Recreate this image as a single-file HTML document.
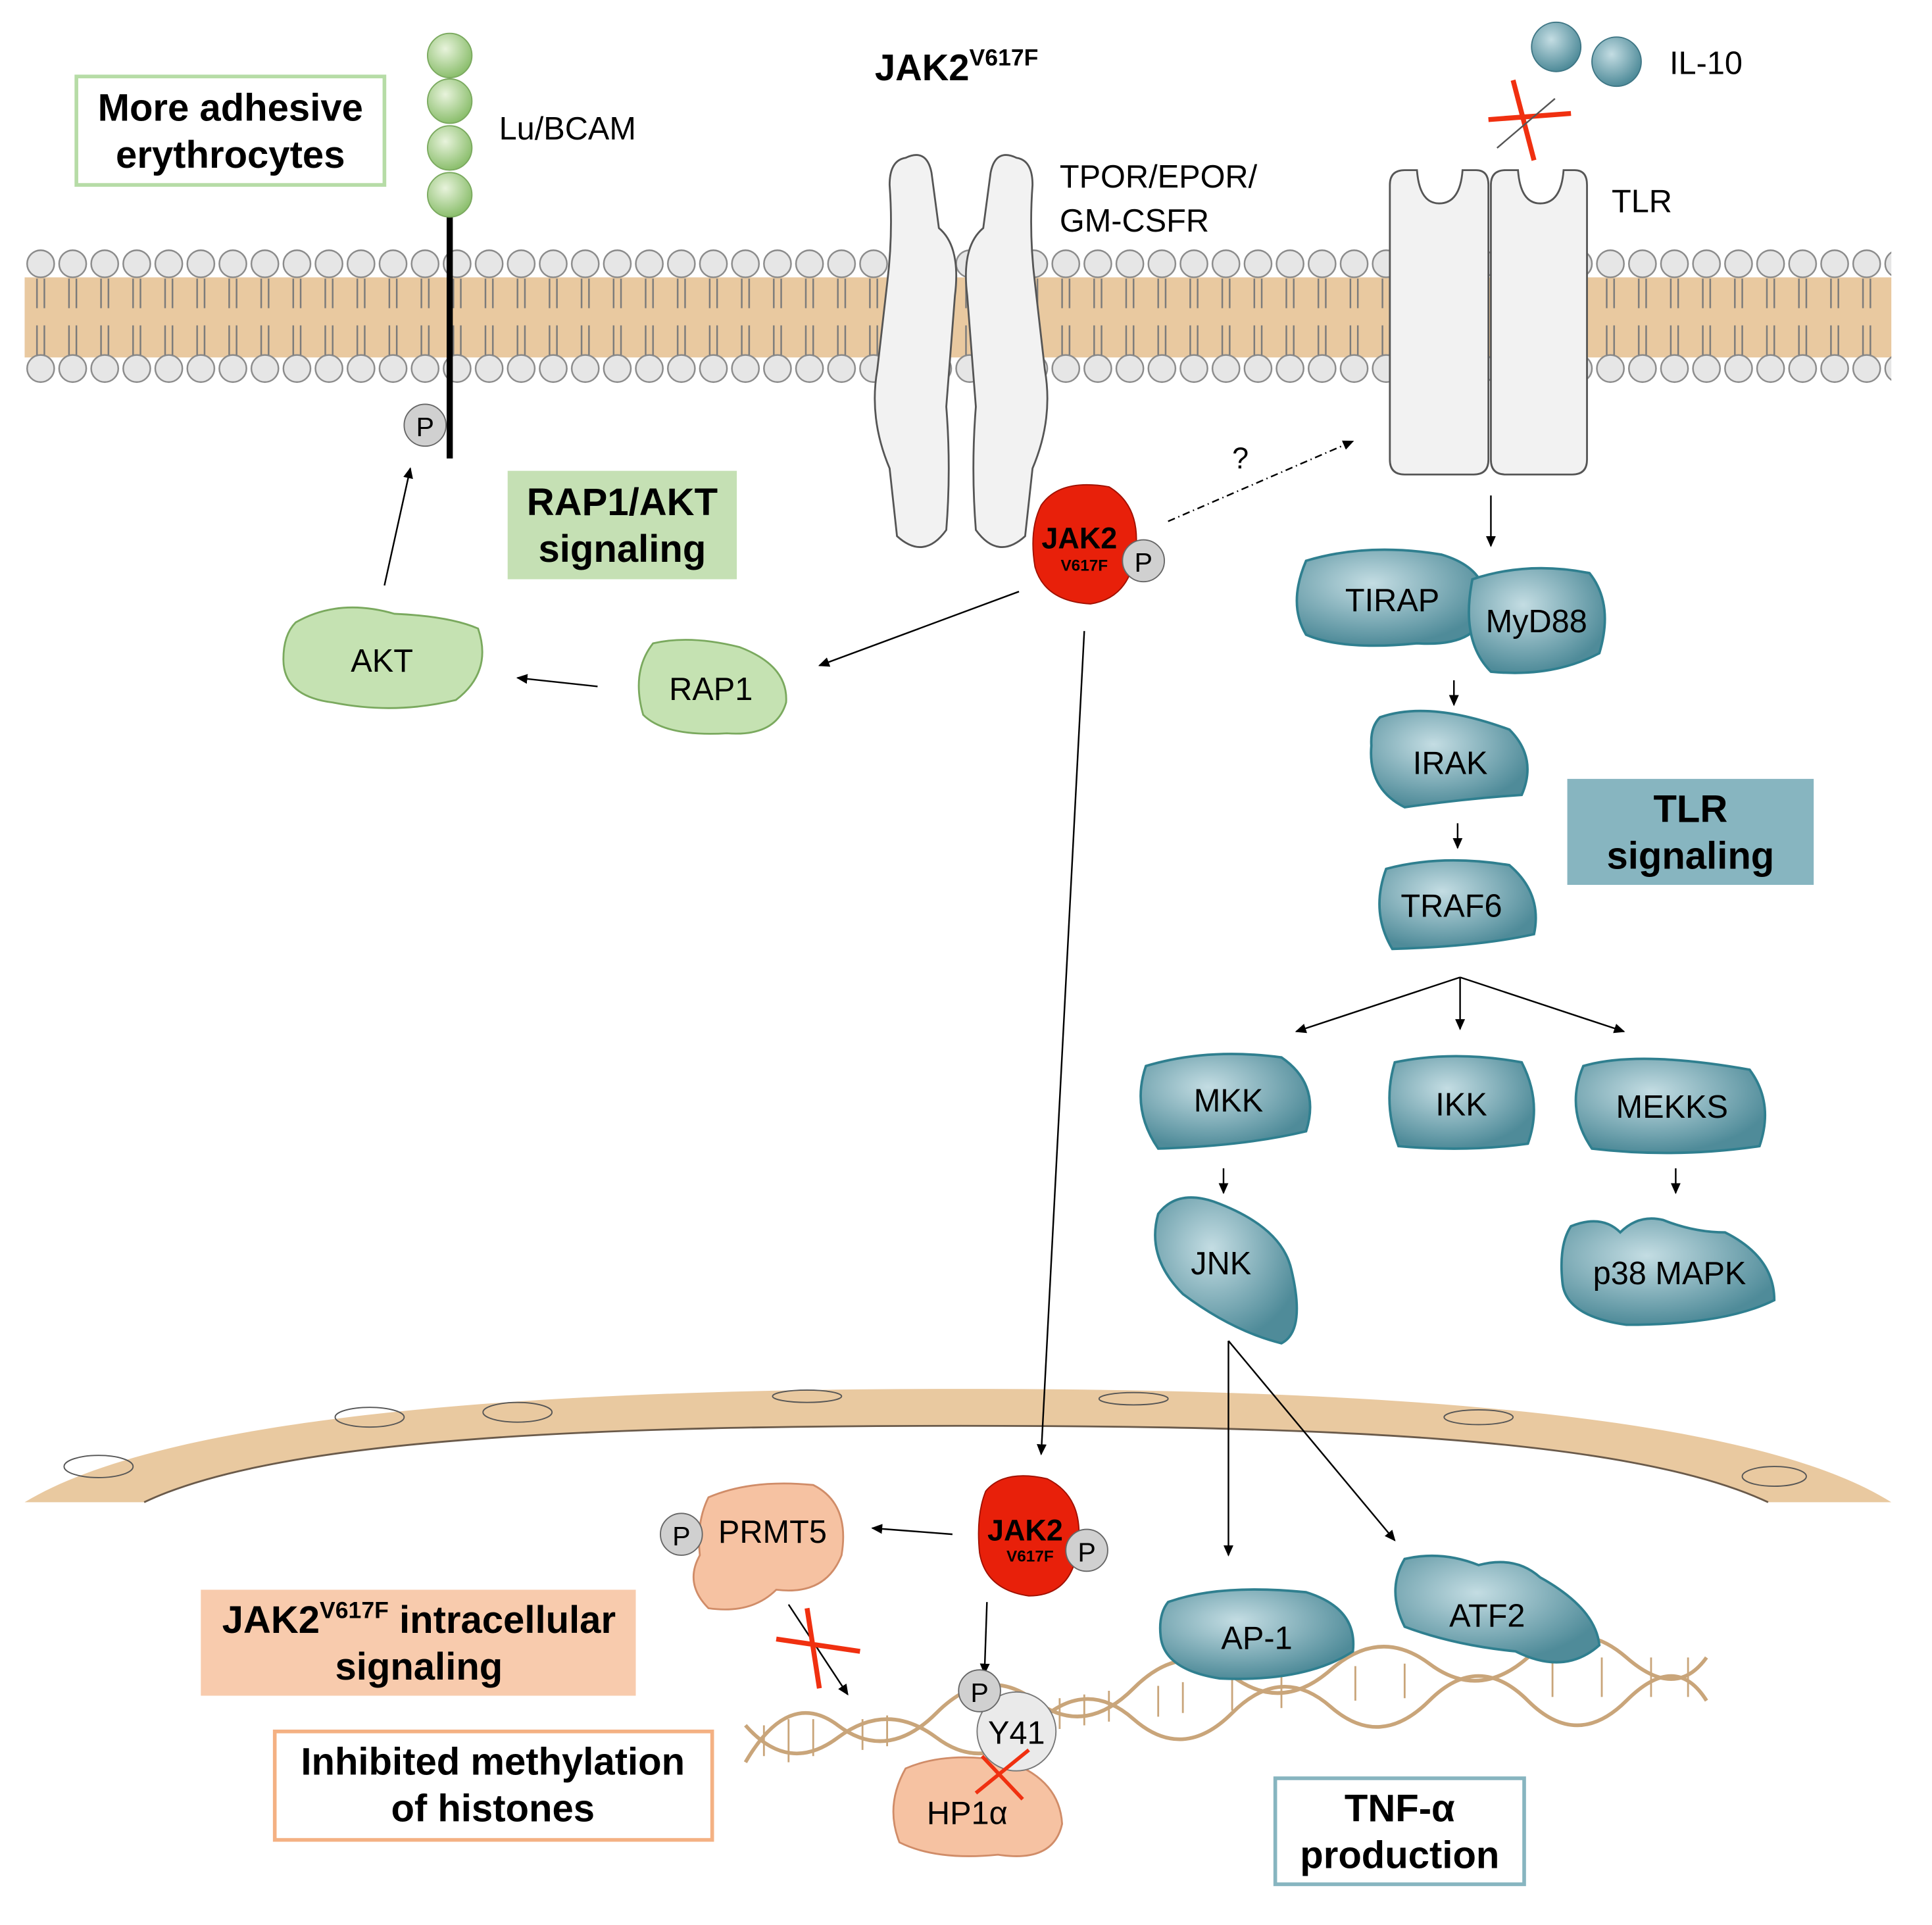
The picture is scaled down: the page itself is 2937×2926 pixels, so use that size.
<!DOCTYPE html>
<html><head><meta charset="utf-8"><style>
html,body{margin:0;padding:0;background:#fff;}
svg{display:block;}
text{font-family:"Liberation Sans",sans-serif;}
</style></head><body>
<svg width="2937" height="2926" viewBox="0 0 1568 1562" xmlns="http://www.w3.org/2000/svg">
<defs>
<pattern id="heads" x="20" y="0" width="26" height="400" patternUnits="userSpaceOnUse">
<circle cx="13" cy="214" r="11" fill="#e6e6e6" stroke="#8a8a8a" stroke-width="1.3"/>
<circle cx="13" cy="299" r="11" fill="#e6e6e6" stroke="#8a8a8a" stroke-width="1.3"/>
<path d="M10 226 V250 M16 226 V250 M10 288 V264 M16 288 V264" stroke="#7a7a7a" stroke-width="1.3" fill="none"/>
</pattern>
<marker id="ar" markerWidth="10" markerHeight="10" refX="8" refY="5" orient="auto" markerUnits="userSpaceOnUse"><path d="M0,1 L9,5 L0,9 z" fill="#000"/></marker>
<radialGradient id="gb" cx="40%" cy="35%" r="65%"><stop offset="0" stop-color="#e8f3dc"/><stop offset="1" stop-color="#8cbf6e"/></radialGradient>
<radialGradient id="tb" cx="40%" cy="35%" r="65%"><stop offset="0" stop-color="#c4dde3"/><stop offset="1" stop-color="#4f8b99"/></radialGradient>
</defs>

<!-- membrane -->
<rect x="20" y="225" width="1515" height="65" fill="#e9c9a0"/>
<rect x="20" y="195" width="1515" height="120" fill="url(#heads)"/>

<!-- nucleus envelope -->
<path d="M20 1219 C150 1140 500 1127 780 1127 C1060 1127 1410 1140 1535 1219 L1435 1219 C1320 1165 1060 1157 780 1157 C500 1157 230 1165 117 1219 Z" fill="#e9c9a0"/>
<path d="M117 1219 C230 1165 500 1157 780 1157 C1060 1157 1320 1165 1435 1219" fill="none" stroke="#6a5a4a" stroke-width="1.5"/>
<ellipse cx="80" cy="1190" rx="28" ry="9" fill="none" stroke="#555"/>
<ellipse cx="300" cy="1150" rx="28" ry="8" fill="none" stroke="#555"/>
<ellipse cx="420" cy="1146" rx="28" ry="8" fill="none" stroke="#555"/>
<ellipse cx="655" cy="1133" rx="28" ry="5" fill="none" stroke="#555"/>
<ellipse cx="920" cy="1135" rx="28" ry="5" fill="none" stroke="#555"/>
<ellipse cx="1200" cy="1150" rx="28" ry="6" fill="none" stroke="#555"/>
<ellipse cx="1440" cy="1198" rx="26" ry="8" fill="none" stroke="#555"/>

<!-- DNA -->
<g stroke="#c9a57a" stroke-width="3" fill="none">
<path d="M605 1430 Q640 1370 680 1400 T760 1390 T840 1380 T920 1370 T1000 1360 T1080 1355 T1160 1350 T1240 1345 T1320 1345 T1385 1345"/>
<path d="M605 1400 Q640 1440 680 1410 T760 1410 T840 1400 T920 1395 T1000 1390 T1080 1385 T1160 1380 T1240 1380 T1320 1380 T1385 1380"/>
</g>
<g stroke="#c9a57a" stroke-width="1.5">
<path d="M620 1400v25M640 1395v35M660 1395v30M700 1395v25M720 1392v25M860 1378v25M880 1375v25M900 1372v25M940 1368v25M960 1365v25M1000 1360v28M1040 1358v28M1100 1352v28M1140 1350v28M1260 1345v32M1300 1345v32M1340 1345v32M1370 1345v32"/>
</g>

<!-- Lu/BCAM -->
<line x1="365" y1="175" x2="365" y2="372" stroke="#000" stroke-width="5"/>
<circle cx="365" cy="45" r="18" fill="url(#gb)" stroke="#7aa95e"/>
<circle cx="365" cy="82" r="18" fill="url(#gb)" stroke="#7aa95e"/>
<circle cx="365" cy="120" r="18" fill="url(#gb)" stroke="#7aa95e"/>
<circle cx="365" cy="158" r="18" fill="url(#gb)" stroke="#7aa95e"/>
<circle cx="345" cy="345" r="17" fill="#d0d0d0" stroke="#666"/>
<text x="345" y="354" font-size="22" text-anchor="middle">P</text>
<text x="405" y="113" font-size="26">Lu/BCAM</text>

<rect x="62" y="62" width="250" height="88" fill="#fff" stroke="#b6dca6" stroke-width="3"/>
<text x="187" y="98" font-size="31" font-weight="bold" text-anchor="middle">More adhesive</text>
<text x="187" y="136" font-size="31" font-weight="bold" text-anchor="middle">erythrocytes</text>

<!-- title -->
<text x="710" y="65" font-size="30" font-weight="bold">JAK2<tspan font-size="19" dy="-12">V617F</tspan></text>

<!-- receptor -->
<path d="M735 128 Q752 120 756 140 L762 185 Q780 200 775 240 L768 330 Q772 380 768 430 Q750 455 728 435 L722 380 Q705 340 712 300 L720 230 Q725 190 722 150 Q722 130 735 128 Z" fill="#f2f2f2" stroke="#555" stroke-width="1.5"/>
<path d="M825 128 Q808 120 804 140 L798 185 Q780 200 785 240 L792 330 Q788 380 792 430 Q810 455 832 435 L838 380 Q855 340 848 300 L840 230 Q835 190 838 150 Q838 130 825 128 Z" fill="#f2f2f2" stroke="#555" stroke-width="1.5"/>
<text x="860" y="152" font-size="26">TPOR/EPOR/</text>
<text x="860" y="188" font-size="26">GM-CSFR</text>

<!-- JAK2 cytoplasm -->
<path d="M845 410 Q860 388 900 395 Q925 410 922 445 Q918 485 885 490 Q848 488 840 460 Q835 430 845 410Z" fill="#e8200a" stroke="#a01000"/>
<text x="876" y="445" font-size="24" font-weight="bold" text-anchor="middle">JAK2</text>
<text x="880" y="463" font-size="13" font-weight="bold" text-anchor="middle">V617F</text>
<circle cx="928" cy="455" r="17" fill="#d0d0d0" stroke="#666"/>
<text x="928" y="464" font-size="22" text-anchor="middle">P</text>

<line x1="948" y1="423" x2="1098" y2="358" stroke="#000" stroke-width="1.3" stroke-dasharray="6,3,1,3" marker-end="url(#ar)"/>
<text x="1000" y="380" font-size="24">?</text>

<!-- IL-10 / TLR -->
<circle cx="1263" cy="38" r="20" fill="url(#tb)" stroke="#3d7584"/>
<circle cx="1312" cy="50" r="20" fill="url(#tb)" stroke="#3d7584"/>
<text x="1355" y="60" font-size="26">IL-10</text>
<path d="M1208 97 L1275 92 M1228 65 L1245 130" stroke="#f03010" stroke-width="4"/>
<path d="M1215 120 L1262 80" stroke="#555" stroke-width="1.3"/>
<path d="M1140 138 H1150 Q1152 165 1168 165 Q1185 165 1187 138 H1198 Q1208 138 1208 150 V373 Q1208 385 1196 385 H1140 Q1128 385 1128 373 V150 Q1128 138 1140 138Z" fill="#f2f2f2" stroke="#555" stroke-width="1.5"/>
<path d="M1222 138 H1232 Q1234 165 1250 165 Q1267 165 1269 138 H1278 Q1288 138 1288 150 V373 Q1288 385 1276 385 H1222 Q1210 385 1210 373 V150 Q1210 138 1222 138Z" fill="#f2f2f2" stroke="#555" stroke-width="1.5"/>
<text x="1308" y="172" font-size="26">TLR</text>

<!-- RAP1/AKT -->
<rect x="412" y="382" width="186" height="88" fill="#c5e0b4"/>
<text x="505" y="418" font-size="31" font-weight="bold" text-anchor="middle">RAP1/AKT</text>
<text x="505" y="456" font-size="31" font-weight="bold" text-anchor="middle">signaling</text>
<path d="M240 505 Q275 485 320 498 Q365 500 388 510 Q400 545 370 568 Q320 580 270 570 Q230 565 230 535 Q230 515 240 505Z" fill="#c5e2b2" stroke="#7aa95e" stroke-width="1.5"/>
<text x="310" y="545" font-size="26" text-anchor="middle">AKT</text>
<path d="M530 522 Q560 515 600 525 Q640 540 638 570 Q630 598 590 595 Q540 598 522 580 Q512 545 530 522Z" fill="#c5e2b2" stroke="#7aa95e" stroke-width="1.5"/>
<text x="577" y="568" font-size="26" text-anchor="middle">RAP1</text>
<line x1="827" y1="480" x2="665" y2="540" stroke="#000" stroke-width="1.3" marker-end="url(#ar)"/>
<line x1="485" y1="557" x2="420" y2="550" stroke="#000" stroke-width="1.3" marker-end="url(#ar)"/>
<line x1="312" y1="475" x2="333" y2="380" stroke="#000" stroke-width="1.3" marker-end="url(#ar)"/>
<line x1="880" y1="512" x2="845" y2="1180" stroke="#000" stroke-width="1.3" marker-end="url(#ar)"/>

<!-- TLR pathway -->
<g fill="url(#tb)" stroke="#2f7f8f" stroke-width="2">
<path d="M1060 455 Q1110 440 1170 450 Q1210 462 1205 495 Q1200 525 1150 522 Q1090 528 1060 515 Q1045 490 1060 455Z"/>
<path d="M1195 470 Q1240 455 1290 465 Q1310 490 1298 530 Q1260 550 1210 545 Q1185 520 1195 470Z"/>
<path d="M1120 582 Q1160 568 1225 592 Q1248 615 1235 645 Q1190 648 1140 655 Q1110 640 1113 605 Q1112 590 1120 582Z"/>
<path d="M1125 705 Q1170 693 1225 702 Q1252 725 1245 758 Q1200 768 1130 770 Q1112 740 1125 705Z"/>
<path d="M930 865 Q980 850 1040 858 Q1072 880 1060 918 Q1010 930 940 932 Q918 900 930 865Z"/>
<path d="M1132 862 Q1180 852 1235 862 Q1252 895 1240 928 Q1190 935 1135 930 Q1122 895 1132 862Z"/>
<path d="M1285 865 Q1330 852 1420 868 Q1440 895 1428 930 Q1360 940 1292 932 Q1270 900 1285 865Z"/>
<path d="M940 985 Q955 965 985 975 Q1040 995 1048 1030 Q1060 1080 1040 1090 Q1000 1080 960 1050 Q930 1020 940 985Z"/>
<path d="M1275 995 Q1300 985 1315 1000 Q1330 985 1350 990 Q1375 1000 1400 1000 Q1440 1020 1440 1055 Q1400 1075 1320 1075 Q1270 1068 1268 1040 Q1265 1010 1275 995Z"/>
<path d="M948 1300 Q990 1285 1060 1292 Q1102 1305 1098 1340 Q1060 1365 990 1362 Q945 1355 942 1328 Q940 1310 948 1300Z"/>
<path d="M1140 1265 Q1170 1258 1200 1270 Q1230 1262 1250 1280 Q1295 1305 1298 1335 Q1270 1360 1230 1340 Q1180 1335 1140 1320 Q1125 1290 1140 1265Z"/>
</g>
<text x="1130" y="496" font-size="26" text-anchor="middle">TIRAP</text>
<text x="1247" y="513" font-size="26" text-anchor="middle">MyD88</text>
<text x="1177" y="628" font-size="26" text-anchor="middle">IRAK</text>
<text x="1178" y="744" font-size="26" text-anchor="middle">TRAF6</text>
<text x="997" y="902" font-size="26" text-anchor="middle">MKK</text>
<text x="1186" y="905" font-size="26" text-anchor="middle">IKK</text>
<text x="1357" y="907" font-size="26" text-anchor="middle">MEKKS</text>
<text x="991" y="1034" font-size="26" text-anchor="middle">JNK</text>
<text x="1355" y="1042" font-size="26" text-anchor="middle">p38 MAPK</text>
<text x="1020" y="1338" font-size="26" text-anchor="middle">AP-1</text>
<text x="1207" y="1320" font-size="26" text-anchor="middle">ATF2</text>

<g stroke="#000" stroke-width="1.3" fill="none">
<line x1="1210" y1="402" x2="1210" y2="443" marker-end="url(#ar)"/>
<line x1="1180" y1="552" x2="1180" y2="572" marker-end="url(#ar)"/>
<line x1="1183" y1="668" x2="1183" y2="688" marker-end="url(#ar)"/>
<line x1="1185" y1="793" x2="1052" y2="837" marker-end="url(#ar)"/>
<line x1="1185" y1="793" x2="1185" y2="835" marker-end="url(#ar)"/>
<line x1="1185" y1="793" x2="1318" y2="837" marker-end="url(#ar)"/>
<line x1="993" y1="948" x2="993" y2="968" marker-end="url(#ar)"/>
<line x1="1360" y1="948" x2="1360" y2="968" marker-end="url(#ar)"/>
<line x1="997" y1="1088" x2="997" y2="1262" marker-end="url(#ar)"/>
<line x1="997" y1="1088" x2="1132" y2="1250" marker-end="url(#ar)"/>
</g>

<rect x="1272" y="632" width="200" height="86" fill="#87b5c0"/>
<text x="1372" y="667" font-size="31" font-weight="bold" text-anchor="middle">TLR</text>
<text x="1372" y="705" font-size="31" font-weight="bold" text-anchor="middle">signaling</text>

<!-- nucleus JAK2 -->
<path d="M800 1210 Q815 1192 850 1200 Q880 1215 875 1255 Q870 1295 835 1295 Q800 1290 795 1260 Q792 1230 800 1210Z" fill="#e8200a" stroke="#a01000"/>
<text x="832" y="1250" font-size="24" font-weight="bold" text-anchor="middle">JAK2</text>
<text x="836" y="1267" font-size="13" font-weight="bold" text-anchor="middle">V617F</text>
<circle cx="882" cy="1258" r="17" fill="#d0d0d0" stroke="#666"/>
<text x="882" y="1267" font-size="22" text-anchor="middle">P</text>

<path d="M575 1215 Q610 1200 660 1205 Q690 1220 683 1262 Q670 1295 630 1290 Q610 1310 575 1305 Q555 1285 568 1262 Q565 1235 575 1215Z" fill="#f6c2a2" stroke="#d08c68" stroke-width="1.5"/>
<text x="627" y="1252" font-size="26" text-anchor="middle">PRMT5</text>
<circle cx="553" cy="1245" r="17" fill="#d0d0d0" stroke="#666"/>
<text x="553" y="1254" font-size="22" text-anchor="middle">P</text>
<line x1="773" y1="1245" x2="708" y2="1240" stroke="#000" stroke-width="1.3" marker-end="url(#ar)"/>
<line x1="640" y1="1302" x2="688" y2="1375" stroke="#000" stroke-width="1.3" marker-end="url(#ar)"/>
<path d="M630 1330 L698 1340 M655 1305 L665 1370" stroke="#f03010" stroke-width="4"/>

<line x1="801" y1="1300" x2="799" y2="1358" stroke="#000" stroke-width="1.3" marker-end="url(#ar)"/>
<path d="M735 1435 Q770 1420 820 1430 Q860 1445 862 1480 Q855 1512 810 1505 Q760 1510 730 1495 Q718 1465 735 1435Z" fill="#f6c2a2" stroke="#d08c68" stroke-width="1.5"/>
<circle cx="825" cy="1405" r="32" fill="#eaeaea" stroke="#777"/>
<text x="825" y="1415" font-size="26" text-anchor="middle">Y41</text>
<circle cx="795" cy="1372" r="17" fill="#d0d0d0" stroke="#666"/>
<text x="795" y="1381" font-size="22" text-anchor="middle">P</text>
<text x="785" y="1480" font-size="26" text-anchor="middle">HP1α</text>
<path d="M792 1455 L835 1420 M797 1425 L830 1460" stroke="#f03010" stroke-width="3"/>

<rect x="163" y="1290" width="353" height="86" fill="#f8cbad"/>
<text x="340" y="1325" font-size="31" font-weight="bold" text-anchor="middle">JAK2<tspan font-size="19" dy="-12">V617F</tspan><tspan dy="12"> intracellular</tspan></text>
<text x="340" y="1363" font-size="31" font-weight="bold" text-anchor="middle">signaling</text>

<rect x="223" y="1405" width="355" height="88" fill="#fff" stroke="#f4b183" stroke-width="3"/>
<text x="400" y="1440" font-size="31" font-weight="bold" text-anchor="middle">Inhibited methylation</text>
<text x="400" y="1478" font-size="31" font-weight="bold" text-anchor="middle">of histones</text>

<rect x="1035" y="1443" width="202" height="86" fill="#fff" stroke="#87b5c0" stroke-width="3"/>
<text x="1136" y="1478" font-size="31" font-weight="bold" text-anchor="middle">TNF-α</text>
<text x="1136" y="1516" font-size="31" font-weight="bold" text-anchor="middle">production</text>
</svg>
</body></html>
